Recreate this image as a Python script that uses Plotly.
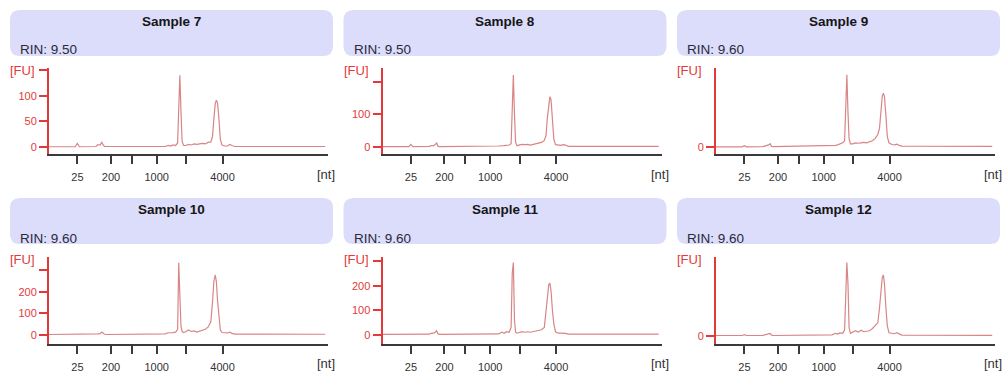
import plotly.graph_objects as go

W, H = 1005, 374

# ---------------- data ----------------
ladder_nt = [25, 200, 500, 1000, 2000, 4000]
ladder_time = [24.1, 30.1, 33.8, 38.3, 43.6, 50.1]          # migration time [s]
ladder_label = ["25", "200", "", "1000", "", "4000"]

samples = ["Sample 7", "Sample 8", "Sample 9", "Sample 10", "Sample 11", "Sample 12"]
rin = [9.50, 9.50, 9.60, 9.60, 9.60, 9.60]

time_s = [19.0, 23.7, 24.07, 24.45, 27.4, 27.7, 28.2, 28.45, 28.7, 28.95, 29.3,
          39.8, 40.4, 40.8, 41.2, 41.7, 42.05, 42.25, 42.45, 42.65, 42.85, 43.1,
          43.5, 44.0, 44.5, 45.0, 45.5, 46.0, 46.5, 47.0, 47.5, 48.0, 48.3, 48.55,
          48.8, 49.0, 49.2, 49.45, 49.7, 50.0, 50.5, 51.0, 51.4, 51.8, 52.3, 68.5]

fu_s7 = [0.5, 0.5, 7, 0.5, 1, 4, 4, 10, 4, 1, 1,
         1, 3, 2, 4, 3, 8, 70, 140, 70, 12, 3,
         3, 5, 4, 6, 5, 6, 7, 6, 9, 10, 20, 55,
         85, 91, 86, 55, 15, 4, 2, 2, 5, 3, 1, 1]
fu_s8 = [1, 1, 8, 1, 2, 4, 4, 8, 12, 2, 1,
         3, 5, 4, 5, 6, 10, 110, 220, 100, 15, 4,
         6, 8, 7, 8, 6, 8, 9, 10, 14, 20, 35, 90,
         140, 154, 145, 90, 25, 7, 5, 5, 7, 6, 2, 2]
fu_s9 = [1, 1, 6, 1, 2, 4, 5, 10, 16, 3, 2,
         5, 8, 10, 15, 20, 30, 200, 348, 170, 40, 15,
         15, 20, 18, 20, 22, 20, 25, 30, 40, 60, 90, 170,
         245, 259, 240, 150, 50, 20, 12, 10, 14, 8, 4, 3]
fu_s10 = [1, 1, 4, 1, 2, 4, 5, 12, 8, 2, 1,
          4, 9, 8, 10, 12, 25, 335, 146, 40, 15, 10,
          14, 22, 15, 18, 12, 16, 20, 25, 35, 60, 150, 250,
          278, 245, 160, 70, 22, 10, 8, 8, 12, 6, 3, 2]
fu_s11 = [1, 1, 4, 1, 2, 5, 6, 10, 16, 3, 1,
          3, 10, 6, 12, 10, 30, 250, 294, 60, 10, 6,
          8, 12, 10, 12, 10, 12, 14, 16, 20, 30, 90, 160,
          205, 210, 180, 100, 45, 12, 6, 6, 7, 5, 2, 2]
fu_s12 = [1, 1, 5, 1, 2, 4, 5, 8, 11, 3, 1,
          4, 12, 8, 14, 12, 30, 200, 369, 265, 40, 12,
          16, 25, 18, 28, 20, 22, 25, 35, 50, 65, 140, 240,
          295, 307, 260, 140, 50, 15, 12, 10, 15, 10, 3, 2]
fu_all = [fu_s7, fu_s8, fu_s9, fu_s10, fu_s11, fu_s12]

y_tickvals = [[0, 50, 100, 150], [0, 100, 200], [0],
              [0, 100, 200, 300], [0, 100, 200, 300], [0]]
y_ticktext = [["0", "50", "100", ""], ["0", "100", ""], ["0"],
              ["0", "100", "200", ""], ["0", "100", "200", ""], ["0"]]

# ---------------- layout config ----------------
y_range = [[-13.6, 154], [-21.4, 241.6], [-33.7, 380],
           [-41, 364], [-36, 319], [-39.4, 400]]
col_x0 = [49, 382.5, 716]
axis_w = 279
row_top = [68, 256.5]
row_bot = [154, 343.5]
hdr_top = [10, 198]
hdr_bot = [56, 244]

FONT = "Liberation Sans"
RED = "#e23a3a"
TRACE = "#d98585"
DARK = "#3a3a3a"
HDR = "#dcdcfb"


def px(x):
    return x / W


def py(y):
    return 1 - y / H


def rounded_rect(x0, y0, x1, y1, r):
    X = lambda v: f"{px(v):.5f}"
    Y = lambda v: f"{py(v):.5f}"
    return (f"M {X(x0 + r)},{Y(y0)} L {X(x1 - r)},{Y(y0)} Q {X(x1)},{Y(y0)} {X(x1)},{Y(y0 + r)} "
            f"L {X(x1)},{Y(y1 - r)} Q {X(x1)},{Y(y1)} {X(x1 - r)},{Y(y1)} "
            f"L {X(x0 + r)},{Y(y1)} Q {X(x0)},{Y(y1)} {X(x0)},{Y(y1 - r)} "
            f"L {X(x0)},{Y(y0 + r)} Q {X(x0)},{Y(y0)} {X(x0 + r)},{Y(y0)} Z")


fig = go.Figure()
shapes = []
annotations = []
layout_axes = {}

for i, name in enumerate(samples):
    r, c = divmod(i, 3)
    n = i + 1
    xa = "x" if n == 1 else f"x{n}"
    ya = "y" if n == 1 else f"y{n}"
    x0 = col_x0[c]
    x1 = x0 + axis_w

    fig.add_trace(go.Scatter(x=time_s, y=fu_all[i], mode="lines",
                             line=dict(color=TRACE, width=1.2),
                             xaxis=xa, yaxis=ya, hoverinfo="skip"))

    layout_axes[f"xaxis{'' if n == 1 else n}"] = dict(
        domain=[px(x0), px(x1)], anchor=ya, range=[19, 69],
        tickmode="array", tickvals=ladder_time, ticktext=ladder_label,
        ticks="outside", ticklen=8, tickwidth=2, tickcolor=DARK,
        showline=True, linecolor=DARK, linewidth=2,
        showgrid=False, zeroline=False, fixedrange=True,
        tickfont=dict(family=FONT, size=11, color="#333333"),
        ticklabelstandoff=4,
    )
    layout_axes[f"yaxis{'' if n == 1 else n}"] = dict(
        domain=[py(row_bot[r]), py(row_top[r])], anchor=xa, range=y_range[i],
        tickmode="array", tickvals=y_tickvals[i], ticktext=y_ticktext[i],
        ticks="outside", ticklen=8, tickwidth=2, tickcolor=RED,
        showline=True, linecolor=RED, linewidth=2,
        showgrid=False, zeroline=False, fixedrange=True,
        tickfont=dict(family=FONT, size=11, color=RED),
    )

    hx0, hx1 = x0 - 39, x0 + 284
    shapes.append(dict(type="path", xref="paper", yref="paper",
                       path=rounded_rect(hx0, hdr_top[r], hx1, hdr_bot[r], 10),
                       fillcolor=HDR, line=dict(width=0), layer="below"))

    annotations.append(dict(xref="paper", yref="paper",
                            x=px((hx0 + hx1) / 2), y=py(hdr_top[r] + 11.7),
                            text=f"<b>{name}</b>", showarrow=False,
                            xanchor="center", yanchor="middle",
                            font=dict(family=FONT, size=13.5, color="#161616")))
    annotations.append(dict(xref="paper", yref="paper",
                            x=px(hx0 + 8), y=py(hdr_bot[r] - 6),
                            text=f"RIN: {rin[i]:.2f}", showarrow=False,
                            xanchor="left", yanchor="middle",
                            font=dict(family=FONT, size=13.5, color="#2a2a3a")))
    annotations.append(dict(xref="paper", yref="paper",
                            x=px(x0 - 12), y=py(row_top[r] + 2.5),
                            text="[FU]", showarrow=False,
                            xanchor="right", yanchor="middle",
                            font=dict(family=FONT, size=13, color=RED)))
    annotations.append(dict(xref="paper", yref="paper",
                            x=px(x1 + 9), y=py(row_bot[r] + 20),
                            text="[nt]", showarrow=False,
                            xanchor="right", yanchor="middle",
                            font=dict(family=FONT, size=13, color="#333333")))

fig.update_layout(
    width=W, height=H, margin=dict(l=0, r=0, t=0, b=0),
    paper_bgcolor="white", plot_bgcolor="rgba(0,0,0,0)",
    showlegend=False, shapes=shapes, annotations=annotations,
    **layout_axes,
)

fig.write_html("out.html", config={"displayModeBar": False},
               post_script="document.body.style.margin='0';"
                           "document.body.style.padding='0';"
                           "document.body.style.overflow='hidden';")
